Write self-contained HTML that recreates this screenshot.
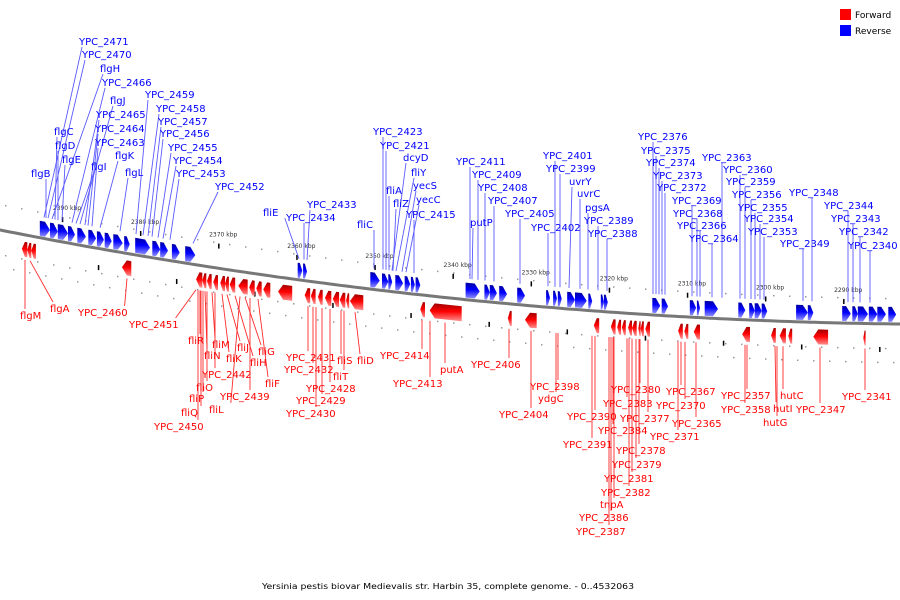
<!DOCTYPE html>
<html><head><meta charset="utf-8"><style>
html,body{margin:0;padding:0;background:#fff;}
svg{display:block;font-family:"DejaVu Sans","Liberation Sans",sans-serif;}
</style></head><body>
<svg id="chart" width="900" height="600" viewBox="0 0 900 600" xmlns="http://www.w3.org/2000/svg">
<defs>
<linearGradient id="gBlue" x1="0" y1="0" x2="0" y2="1"><stop offset="0" stop-color="#0000a0"/><stop offset="0.45" stop-color="#0000ff"/><stop offset="1" stop-color="#9090ff"/></linearGradient>
<linearGradient id="gRed" x1="0" y1="0" x2="0" y2="1"><stop offset="0" stop-color="#a00000"/><stop offset="0.45" stop-color="#ff0000"/><stop offset="1" stop-color="#ff9090"/></linearGradient>
</defs>
<g id="dots"></g>
<g id="ticks"></g>
<path id="backbone" fill="none" stroke="#777" stroke-width="3"/>
<g id="leaders"></g>
<g id="genes"></g>
<g id="labels" font-size="10"></g>
<g font-size="9">
<rect x="840" y="9" width="11" height="11" fill="#ff0000"/>
<text x="855" y="18">Forward</text>
<rect x="840" y="25" width="11" height="11" fill="#0000ff"/>
<text x="855" y="34">Reverse</text>
</g>
<text x="448" y="589" font-size="8" text-anchor="middle" textLength="372" lengthAdjust="spacingAndGlyphs">Yersinia pestis biovar Medievalis str. Harbin 35, complete genome. - 0..4532063</text>
</svg>
<script>
// gene coordinates: offset in kbp from window start (2397.4 kbp)
const revStart=[5.1,6.4,7.4,8.7,9.9,11.3,12.4,13.4,14.5,15.9,17.3,19.5,20.5,22.0,23.7,38.1,38.8,47.4,48.9,49.7,50.6,51.8,52.6,53.2,59.6,62.0,62.7,63.9,66.2,69.9,70.8,71.4,72.6,73.6,75.3,76.9,77.3,83.5,84.7,88.3,89.2,90.2,94.5,95.9,96.6,97.5,101.9,103.4,107.8,109.1,109.8,111.2,112.3,113.7];
const revEnd=[6.4,7.4,8.7,9.6,11.0,12.3,13.3,14.3,15.7,16.6,19.2,20.5,21.5,23.0,25.0,38.7,39.3,48.6,49.7,50.2,51.6,52.5,53.1,53.8,61.4,62.7,63.6,64.9,67.2,70.4,71.3,71.9,73.6,75.1,75.8,77.3,77.8,84.5,85.5,89.1,89.6,91.9,95.4,96.6,97.5,98.2,103.4,104.1,108.9,109.8,111.1,112.3,113.4,114.7];
const fwdStart=[2.8,3.5,4.0,15.6,25.1,25.9,26.5,27.3,28.2,28.8,29.4,30.5,31.9,32.8,33.7,35.6,39.0,39.8,40.7,41.6,42.6,43.5,44.3,44.8,53.8,55.0,65.0,67.2,76.0,78.2,79.0,79.6,80.4,80.9,81.7,82.0,82.6,86.8,87.6,88.8,95.0,98.7,99.8,100.9,104.1,110.5];
const fwdEnd=[3.5,4.0,4.6,16.8,25.9,26.4,27.1,27.9,28.8,29.3,30.1,31.7,32.6,33.5,34.6,37.4,39.7,40.4,41.3,42.4,43.4,44.2,44.7,46.5,54.4,59.1,65.5,68.7,76.7,78.8,79.5,80.1,80.9,81.5,82.0,82.4,83.2,87.4,88.1,89.6,96.0,99.3,100.6,101.4,106.0,110.8];
const tickKbp=[2390,2380,2370,2360,2350,2340,2330,2320,2310,2300,2290];
const windowStartKbp=2397.4;
// label layout: [text, textX, baselineY, geneX]
const blueLabels=[["YPC_2471",79,45,44],["YPC_2470",82,58,48],["flgH",100,72,52],["YPC_2466",102,86,72],["flgJ",110,104,80],["YPC_2465",96,118,85],["YPC_2464",95,132,88],["YPC_2463",95,146,92],["flgK",115,159,100],["flgC",54,135,55],["flgD",55,149,58],["flgE",62,163,62],["flgB",31,177,46],["flgI",91,170,76],["flgL",125,176,120],["YPC_2459",145,98,136],["YPC_2458",156,112,143],["YPC_2457",158,125,148],["YPC_2456",160,137,152],["YPC_2455",168,151,158],["YPC_2454",173,164,163],["YPC_2453",176,177,170],["YPC_2452",215,190,193],["fliE",263,216,299],["YPC_2434",286,221,304],["YPC_2433",307,208,307],["fliC",357,228,374],["YPC_2423",373,135,383],["YPC_2421",380,149,386],["dcyD",403,161,392],["fliY",411,176,396],["fliA",386,194,389],["fliZ",393,207,393],["yecS",413,189,402],["yecC",416,203,406],["YPC_2415",406,218,414],["YPC_2411",456,165,470],["YPC_2409",472,178,478],["YPC_2408",478,191,485],["YPC_2407",488,204,494],["YPC_2405",505,217,520],["putP",470,226,472],["YPC_2402",531,231,548],["YPC_2401",543,159,555],["YPC_2399",546,172,560],["uvrY",569,185,569],["uvrC",577,197,580],["pgsA",585,211,588],["YPC_2389",584,224,598],["YPC_2388",588,237,607],["YPC_2376",638,140,653],["YPC_2375",641,154,656],["YPC_2374",646,166,659],["YPC_2373",653,179,662],["YPC_2372",657,191,665],["YPC_2369",672,204,692],["YPC_2368",673,217,697],["YPC_2366",677,229,700],["YPC_2364",689,242,712],["YPC_2363",702,161,722],["YPC_2360",723,173,740],["YPC_2359",726,185,745],["YPC_2356",732,198,751],["YPC_2355",738,211,755],["YPC_2354",744,222,760],["YPC_2353",748,235,764],["YPC_2348",789,196,812],["YPC_2349",780,247,803],["YPC_2344",824,209,848],["YPC_2343",831,222,853],["YPC_2342",839,235,860],["YPC_2340",848,249,870]];
const redLabels=[["flgM",20,319,25],["flgA",50,312,30],["YPC_2460",78,316,127],["YPC_2451",129,328,196],["fliR",188,344,200],["fliM",212,348,212],["fliJ",237,351,227],["fliN",204,359,205],["fliK",226,362,222],["fliG",258,355,245],["fliH",250,366,235],["YPC_2442",202,378,215],["fliO",196,391,207],["fliF",265,387,258],["YPC_2439",220,400,250],["fliP",189,402,203],["fliL",209,413,240],["fliQ",181,416,201],["YPC_2450",154,430,198],["YPC_2431",286,361,308],["YPC_2432",284,373,313],["YPC_2428",306,392,330],["YPC_2429",296,404,322],["YPC_2430",286,417,316],["fliS",337,364,341],["fliT",333,380,344],["fliD",357,364,355],["YPC_2414",380,359,422],["YPC_2413",393,387,430],["putA",440,373,445],["YPC_2406",471,368,509],["YPC_2404",499,418,531],["YPC_2398",530,390,558],["ydgC",538,402,556],["YPC_2390",567,420,595],["YPC_2391",563,448,592],["YPC_2380",611,393,640],["YPC_2383",603,407,627],["YPC_2377",620,422,648],["YPC_2384",598,434,613],["YPC_2378",616,454,639],["YPC_2379",612,468,636],["YPC_2381",604,482,632],["YPC_2382",601,496,629],["tnpA",600,508,614],["YPC_2386",579,521,611],["YPC_2387",576,535,609],["YPC_2367",666,395,681],["YPC_2370",656,409,685],["YPC_2365",672,427,696],["YPC_2371",650,440,678],["YPC_2357",721,399,747],["YPC_2358",721,413,745],["hutC",780,399,783],["hutI",773,412,775],["hutG",763,426,777],["YPC_2347",796,413,820],["YPC_2341",842,400,865]];

const NS="http://www.w3.org/2000/svg";
const PX_PER_KBP=7.8125;
function xOff(o){return o*PX_PER_KBP;}
function xKbp(k){return (windowStartKbp-k)*PX_PER_KBP;}
function curve(x){return 230+0.1978*x-1.037e-4*x*x;}
function mk(tag,attrs,parent){const e=document.createElementNS(NS,tag);for(const k in attrs)e.setAttribute(k,attrs[k]);parent.appendChild(e);return e;}

let d="";for(let x=-5;x<=905;x+=5){d+=(x===-5?"M":"L")+x+","+curve(x).toFixed(1)+" ";}
document.getElementById("backbone").setAttribute("d",d);

const dots=document.getElementById("dots");
for(let x=5;x<900;x+=16){
  for(const off of [-26,24,38]){
    const dt=mk("rect",{x:x+(off===38?8:0),y:curve(x)+off,width:1.5,height:1.5,fill:"#999"},dots);
    
    
  }
}

const ticks=document.getElementById("ticks");
tickKbp.forEach(k=>{
  const x=xKbp(k),y=curve(x);
  const t=mk("rect",{x:x+4,y:y-24,width:1.5,height:5,fill:"#000"},ticks);
  
  
  const t2=mk("rect",{x:x+40,y:y+24,width:1.5,height:5,fill:"#000"},ticks);
  
  
  const lb=mk("text",{x:x-5,y:y-31,"font-size":"6",fill:"#333"},ticks);
  lb.textContent=k+" kbp";
  
  
});

const genes=document.getElementById("genes");
function gene(s,e,rev){
  const x1=xOff(s),x2=xOff(e),w=x2-x1,h=Math.min(5,w*0.55);
  const c1=curve(x1),c2=curve(x2),cm=curve(rev?x2-h:x1+h);
  let pts;
  if(rev){const t=-17,b=-2;
    pts=[[x1,c1+t],[x2-h,cm+t],[x2,c2+(t+b)/2],[x2-h,cm+b],[x1,c1+b]];
  }else{const t=7,b=22;
    pts=[[x2,c2+t],[x1+h,cm+t],[x1,c1+(t+b)/2],[x1+h,cm+b],[x2,c2+b]];
  }
  const p=mk("polygon",{points:pts.map(q=>q[0].toFixed(1)+","+q[1].toFixed(1)).join(" "),fill:rev?"url(#gBlue)":"url(#gRed)"},genes);
  
  
}
revStart.forEach((s,i)=>gene(s,revEnd[i],true));
fwdStart.forEach((s,i)=>gene(s,fwdEnd[i],false));

const labels=document.getElementById("labels"),leaders=document.getElementById("leaders");
function lab(arr,rev){
  arr.forEach(a=>{
    const [txt,tx,ty,gx]=a;
    const w=txt.length*6.2;
    const lx=Math.max(tx+3,Math.min(tx+w-3,gx));
    const col=rev?"#0000ff":"#ff0000";
    const ln=mk("line",{x1:lx,y1:rev?ty+2:ty-10,x2:gx,y2:rev?curve(gx)-21:curve(gx)+25,stroke:rev?"#5a5aff":"#ff2a2a","stroke-width":"0.9"},leaders);
    
    
    const t=mk("text",{x:tx,y:ty,fill:col},labels);
    t.textContent=txt;
    
    
  });
}
lab(blueLabels,true);
lab(redLabels,false);
</script>
</body></html>
